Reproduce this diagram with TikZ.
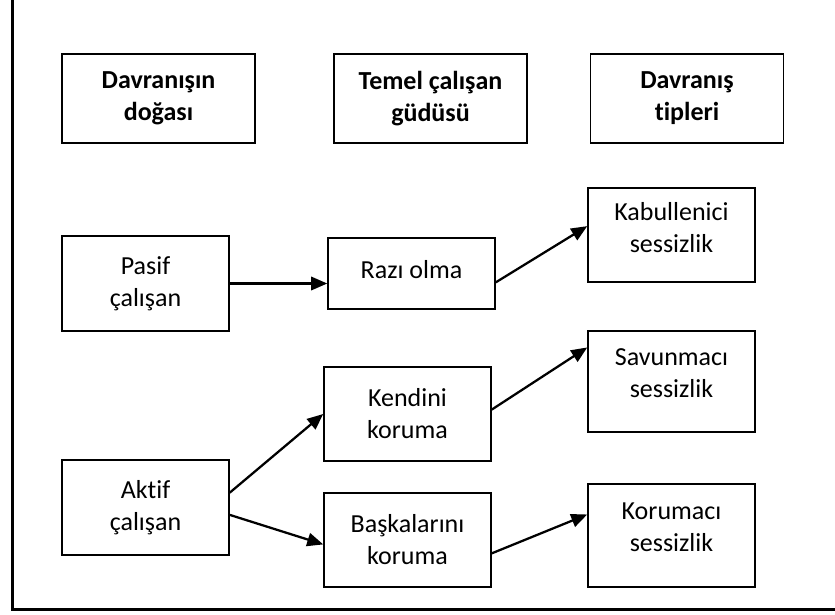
\documentclass[tikz,border=0pt]{standalone}
\usepackage{fontspec}
\setmainfont[Ligatures=NoCommon]{Carlito}
\usetikzlibrary{arrows.meta}

\tikzset{
	kutu/.style={draw, line width=1.4pt, minimum width=125pt, minimum height=70.5pt, inner sep=2pt, align=center, font=\fontsize{19.5}{24}\selectfont},
	baslik/.style={kutu, minimum width=144.75pt, minimum height=66.75pt, font=\bfseries\fontsize{19.5}{24}\selectfont},
	ustyazi/.style={text depth=12pt},
	ok/.style={line width=1.7pt, -{Triangle[length=12pt,width=10pt]}}
}

\begin{document}
\begin{tikzpicture}[x=0.75pt, y=-0.75pt]
	\useasboundingbox (0,0) rectangle (835,614);

	% Frame (left and bottom edges)
	\draw[line width=1.7pt] (12.5,0) -- (12.5,609.5) -- (835,609.5);

	% Column headings
	\node[baslik] (doga) at (158.5,98.5) {Davranışın\\doğası};
	\node[baslik] (gudu) at (430.5,98.5) {Temel çalışan\\güdüsü};
	\node[baslik] (tip) at (687,98.5) {Davranış\\tipleri};

	% Nature of behaviour
	\node[kutu, minimum height=71.25pt] (pasif) at (145.5,283.5) {Pasif\\çalışan};
	\node[kutu, minimum height=71.25pt] (aktif) at (145.5,507.5) {Aktif\\çalışan};

	% Basic motive
	\node[kutu, minimum height=53.25pt, text depth=6pt] (razi) at (411.5,273.5) {Razı olma};
	\node[kutu] (kendini) at (407.5,414) {Kendini\\koruma};
	\node[kutu] (baska) at (407.5,540) {Başkalarını\\koruma};

	% Types of behaviour
	\node[kutu, ustyazi] (kabul) at (671.5,235) {Kabullenici\\sessizlik};
	\node[kutu, ustyazi, minimum height=75.75pt] (savun) at (671.5,381.5) {Savunmacı\\sessizlik};
	\node[kutu, ustyazi, minimum height=77.25pt] (koru) at (671.5,535.5) {Korumacı\\sessizlik};

	% Arrows
	\draw[ok] (pasif.east) -- (pasif.east -| razi.west);
	\draw[ok] (razi.-6) -- (kabul.174);
	\draw[ok] (aktif.10) -- (kendini.west);
	\draw[ok] (aktif.-5) -- (baska.183);
	\draw[ok] (kendini.3) -- (savun.158);
	\draw[ok] (baska.-9) -- (koru.166);

\end{tikzpicture}
\end{document}
